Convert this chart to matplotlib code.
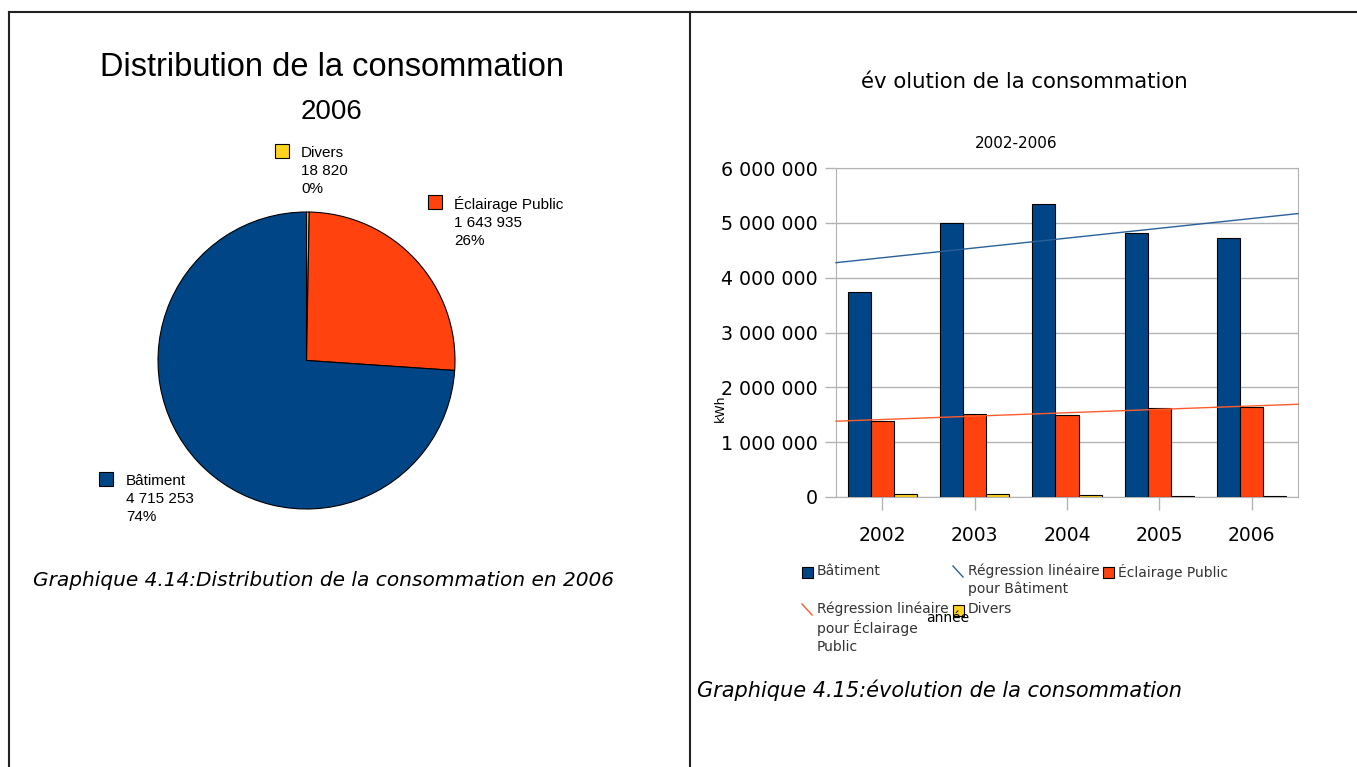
import numpy as np
from matplotlib import pyplot as plt
from matplotlib.lines import Line2D
from matplotlib.patches import Rectangle

# Data
pie_labels = ['Divers', 'Éclairage Public', 'Bâtiment']
pie_values = [18820, 1643935, 4715253]

years = ['2002', '2003', '2004', '2005', '2006']
batiment = [3730000, 5000000, 5340000, 4820000, 4715253]
eclairage = [1390000, 1520000, 1500000, 1630000, 1643935]
divers = [55000, 60000, 45000, 10000, 18820]

y_ticks = [0, 1000000, 2000000, 3000000, 4000000, 5000000, 6000000]

blue = '#004586'
orange = '#ff420e'
yellow = '#ffd320'
colors = [yellow, orange, blue]

W, H = 1357, 767


def fx(x):
    return x / W


def fy(y):
    return 1 - y / H


def fmt(v):
    return f"{v:,}".replace(",", " ")


fig = plt.figure(figsize=(W / 100, H / 100), dpi=100)

# Page frame lines
for xs, ys in [((9, W), (12, 12)), ((9, 9), (12, H)), ((690, 690), (12, H))]:
    fig.add_artist(Line2D([fx(x) for x in xs], [fy(y) for y in ys], color='#222222', lw=1.5))

# ---------- Pie chart ----------
ax1 = fig.add_axes([fx(158), fy(509), fx(297), 297 / H])
ax1.pie(pie_values, colors=colors, startangle=90, counterclock=False,
        wedgeprops=dict(edgecolor='black', linewidth=0.8))
ax1.set_xlim(-1, 1)
ax1.set_ylim(-1, 1)

fig.text(fx(332), fy(68), 'Distribution de la consommation', ha='center', va='center',
         fontsize=23.5, family='Liberation Sans')
fig.text(fx(331), fy(112), '2006', ha='center', va='center', fontsize=20, family='Liberation Sans')

total = sum(pie_values)
# label box positions (square left, middle line y, text left)
pie_label_pos = [(275, 171, 301), (428, 222, 454), (99, 499, 126)]
for name, val, col, (sx, my, tx) in zip(pie_labels, pie_values, colors, pie_label_pos):
    pct = round(val / total * 100)
    fig.text(fx(tx), fy(my), f"{name}\n{fmt(val)}\n{pct}%", ha='left', va='center',
             fontsize=11, family='Liberation Sans', linespacing=1.4)
    fig.add_artist(Rectangle((fx(sx), fy(my - 20 + 7)), fx(14), 14 / H, facecolor=col,
                             edgecolor='black', lw=0.8))

fig.text(fx(33), fy(581), 'Graphique 4.14:Distribution de la consommation en 2006',
         ha='left', va='center', fontsize=14.5, style='italic')

# ---------- Bar chart ----------
ax2 = fig.add_axes([fx(836), fy(497), fx(1298 - 836), (497 - 168) / H])
x = np.arange(len(years))
w = 0.25
ax2.bar(x - w, batiment, w, color=blue, edgecolor='black', lw=0.8, zorder=3)
ax2.bar(x, eclairage, w, color=orange, edgecolor='black', lw=0.8, zorder=3)
ax2.bar(x + w, divers, w, color=yellow, edgecolor='black', lw=0.8, zorder=3)

xr = np.array([-0.5, 4.5])
pb = np.polyfit(x, batiment, 1)
pe = np.polyfit(x, eclairage, 1)
ax2.plot(xr, np.polyval(pb, xr), color='#2a6099', lw=1, zorder=4, clip_on=False)
ax2.plot(xr, np.polyval(pe, xr), color='#ff5c2e', lw=1, zorder=4, clip_on=False)

ax2.set_xlim(-0.5, 4.5)
ax2.set_ylim(0, 6000000)
ax2.set_yticks(y_ticks)
ax2.set_yticklabels([fmt(v) for v in y_ticks], fontsize=13.7)
ax2.set_xticks(x)
ax2.set_xticklabels(years, fontsize=13.5)
ax2.grid(axis='y', color='#b3b3b3', lw=1, zorder=0)
ax2.set_axisbelow(True)
for s in ax2.spines.values():
    s.set_color('#b3b3b3')
ax2.tick_params(axis='y', length=8, width=1, color='#b3b3b3', pad=5)
ax2.tick_params(axis='x', length=9, width=1, color='#b3b3b3', pad=12)

fig.text(fx(1024), fy(82), 'év olution de la consommation', ha='center', va='center', fontsize=15.3)
fig.text(fx(1016), fy(143), '2002-2006', ha='center', va='center', fontsize=11)
fig.text(fx(720), fy(408), 'kWh', ha='center', va='center', rotation=90, fontsize=9)
fig.text(fx(948), fy(618), 'année', ha='center', va='center', fontsize=10)

# Legend below the bar chart
legend_items = [
    ('box', blue, 'Bâtiment', 802, 572),
    ('line', '#2a6099', 'Régression linéaire\npour Bâtiment', 953, 572),
    ('box', orange, 'Éclairage Public', 1103, 572),
    ('line', '#ff5c2e', 'Régression linéaire\npour Éclairage\nPublic', 802, 610),
    ('box', yellow, 'Divers', 953, 610),
]
for kind, col, lab, lx, ly in legend_items:
    if kind == 'box':
        fig.add_artist(Rectangle((fx(lx), fy(ly + 6)), fx(11), 11 / H, facecolor=col,
                                 edgecolor='black', lw=0.8))
    else:
        fig.add_artist(Line2D([fx(lx), fx(lx + 10)], [fy(ly - 6), fy(ly + 5)], color=col, lw=1))
    fig.text(fx(lx + 15), fy(ly - 8), lab, ha='left', va='top', fontsize=10, linespacing=1.3,
             color='#333333')

fig.text(fx(697), fy(690), 'Graphique 4.15:évolution de la consommation',
         ha='left', va='center', fontsize=15, style='italic')

plt.savefig('out.png', dpi=100)
